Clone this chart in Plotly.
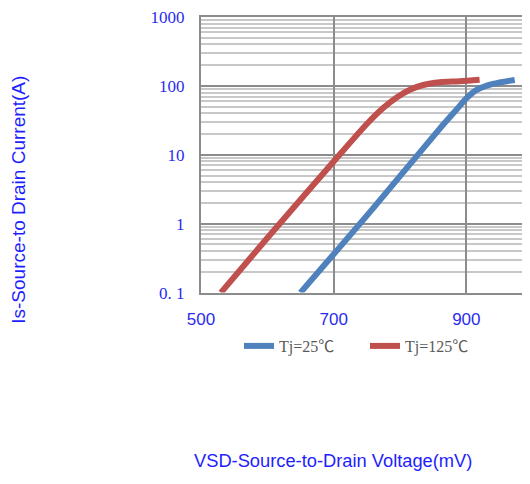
import plotly.graph_objects as go

# Data
vsd_25 = [650, 760, 860, 885, 900, 915, 940, 973]
is_25 = [0.1, 1.7, 24, 45, 66, 87, 107, 122]

vsd_125 = [530, 600, 700, 750, 775, 795, 815, 835, 860, 890, 920]
is_125 = [0.1, 0.62, 8, 28, 48, 68, 88, 103, 113, 117, 123]

y_tickvals = [0.1, 1, 10, 100, 1000]
y_ticktext = ["0. 1", "1", "10", "100", "1000"]
y_minor = [m * 10 ** e for e in range(-1, 3) for m in range(2, 10)]

series_names = ["Tj=25℃", "Tj=125℃"]
series_colors = ["#4F81BD", "#C0504D"]

fig = go.Figure()
fig.add_trace(go.Scatter(x=vsd_25, y=is_25, mode="lines", name=series_names[0],
                         line=dict(color=series_colors[0], width=6, shape="spline", smoothing=0.8)))
fig.add_trace(go.Scatter(x=vsd_125, y=is_125, mode="lines", name=series_names[1],
                         line=dict(color=series_colors[1], width=6, shape="spline", smoothing=0.8)))

# The page body has an 8px margin; figure is laid out in its own coordinates.
OFF = 8
W, H = 530 - OFF, 484 - OFF
L, T = 201 - OFF, 14 - OFF
B = H - (296 - OFF)
PW, PH = W - L, H - T - B


def px(xscreen):
    return (xscreen - OFF - L) / PW


def py(yscreen):
    return (H - B - (yscreen - OFF)) / PH


tick_blue = "#2B2BF0"
title_blue = "#1E1EFF"
fig.update_layout(
    width=W, height=H,
    margin=dict(l=L, r=0, t=T, b=B),
    paper_bgcolor="white", plot_bgcolor="white",
    showlegend=True,
    legend=dict(orientation="h", xref="container", yref="container",
                x=(278 - OFF - 39) / W, y=1 - (344 - OFF - 15) / H,
                xanchor="left", yanchor="top",
                font=dict(family="Liberation Serif, Noto Sans CJK SC", size=16, color="#595959"),
                entrywidth=81, entrywidthmode="pixels",
                bgcolor="rgba(0,0,0,0)"),
    xaxis=dict(range=[500, 996], tick0=500, dtick=200, showgrid=True,
               gridcolor="#8C8C8C", gridwidth=1.5, showline=True, linecolor="#8C8C8C",
               linewidth=2, mirror=True, zeroline=False, ticks="",
               tickfont=dict(family="Liberation Sans, Arial", size=17, color=tick_blue),
               ticklabelstandoff=10),
    yaxis=dict(type="log", range=[-1, 3], tickmode="array", tickvals=y_tickvals,
               ticktext=y_ticktext, showgrid=True, gridcolor="#8C8C8C", gridwidth=1.5,
               showline=True, linecolor="#8C8C8C", linewidth=2, zeroline=False, ticks="",
               tickfont=dict(family="Liberation Serif, Noto Sans CJK SC", size=17, color=tick_blue),
               ticklabelstandoff=11, ticklabeloverflow="allow",
               minor=dict(tickmode="array", tickvals=y_minor, showgrid=True,
                          gridcolor="#C8C8C8", gridwidth=1.5, ticks="")),
    annotations=[
        dict(text="Is-Source-to Drain Current(A)", xref="paper", yref="paper",
             x=px(19), y=py(201), xanchor="center", yanchor="middle",
             textangle=-90, showarrow=False,
             font=dict(family="Liberation Sans, Arial", size=19, color=title_blue)),
        dict(text="VSD-Source-to-Drain Voltage(mV)", xref="paper", yref="paper",
             x=px(332.5), y=py(468), xanchor="center", yanchor="middle",
             showarrow=False,
             font=dict(family="Liberation Sans, Arial", size=18.3, color=title_blue)),
    ],
)

fig.write_html("out.html")
